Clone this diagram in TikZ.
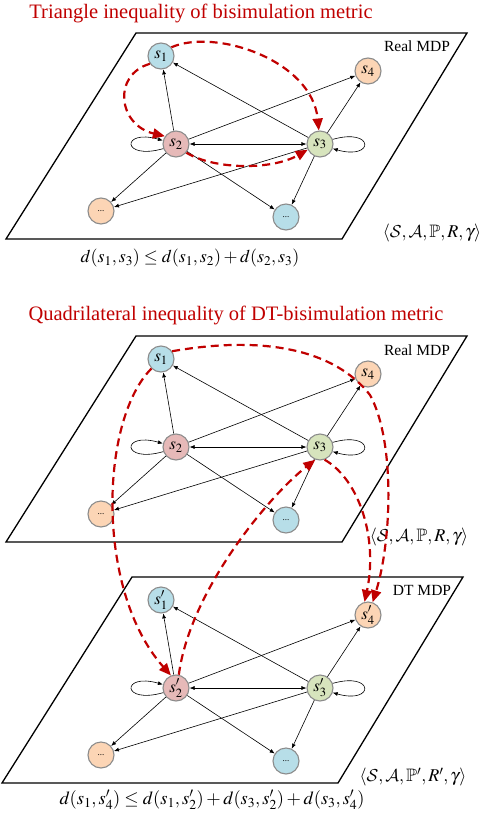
\documentclass[tikz,border=0pt]{standalone}
\usepackage{amsmath, amssymb}
\usepackage{mathptmx}
\DeclareMathAlphabet{\mathcal}{OMS}{cmsy}{m}{n}
\usepackage{fontspec}
\setmainfont{Liberation Serif}
\usepackage{tikz}
\usetikzlibrary{arrows.meta}
\usetikzlibrary{calc}

\definecolor{sblue}{HTML}{B7DEE8}
\definecolor{sred}{HTML}{E6B9B8}
\definecolor{sgreen}{HTML}{D7E4BD}
\definecolor{sorange}{HTML}{FCD5B5}
\definecolor{metricred}{HTML}{C00000}

% one MDP plane: #1 prefix, #2 top edge, #3 x shift, #4 prime
\newcommand{\mdpplane}[4]{%
	\draw[plane] (136+#3,#2) -- (467+#3,#2) -- (342+#3,#2+206) -- (6+#3,#2+206) -- cycle;
	\node[state,fill=sblue]   (#1s1) at (161,#2+23)  {$s#4_1$};
	\node[state,fill=sorange] (#1s4) at (368,#2+38)  {$s#4_4$};
	\node[state,fill=sred]    (#1s2) at (176,#2+111) {$s#4_2$};
	\node[state,fill=sgreen]  (#1s3) at (320,#2+111) {$s#4_3$};
	\node[dotstate,fill=sorange] (#1d1) at (101,#2+178) {...};
	\node[dotstate,fill=sblue]   (#1d2) at (286,#2+184) {...};
	\draw[link] (#1s2) -- (#1s1);
	\draw[link] (#1s3) -- (#1s1);
	\draw[link,<->] (#1s2) -- (#1s3);
	\draw[link] (#1s2) -- (#1s4);
	\draw[link] (#1s3) -- (#1s4);
	\draw[link] (#1s2) -- (#1d1);
	\draw[link] (#1s3) -- (#1d1);
	\draw[link] (#1s2) -- (#1d2);
	\draw[link] (#1s3) -- (#1d2);
	\draw[link] (#1s2.200) .. controls +(-42,12) and +(-42,-12) .. (#1s2.165);
	\draw[link] (#1s3.20) .. controls +(42,-12) and +(42,12) .. (#1s3.340);
}

\begin{document}
\begin{tikzpicture}
	[
	x = 1pt, y = -1pt,
	> = {Latex[length=5pt,width=4pt]},
	plane/.style = {line width=1.3pt},
	state/.style = {draw=black!45,line width=1.1pt,circle,minimum size=26pt,inner sep=0pt,font=\fontsize{17}{17}\selectfont},
	dotstate/.style = {state,font=\fontsize{9}{9}\selectfont},
	link/.style = {->,line width=0.6pt},
	metric/.style = {-{Triangle[length=12pt,width=10pt]},metricred,line width=2.2pt,dash pattern=on 8pt off 5pt},
	title/.style = {metricred,font=\fontsize{20.5}{22}\selectfont},
	mdpname/.style = {font=\fontsize{15.5}{16}\selectfont},
	formula/.style = {font=\fontsize{18}{18}\selectfont}
	]
	\useasboundingbox (0,0) rectangle (486,814);

	\node[title] (ttop) at (201,13) {Triangle inequality of bisimulation metric};
	\node[title] (tmid) at (236,315) {Quadrilateral inequality of DT-bisimulation metric};

	\mdpplane{a}{33}{0}{}
	\mdpplane{b}{336}{0}{}
	\mdpplane{c}{577}{-4}{'}

	\node[mdpname] (na) at (417,46) {Real MDP};
	\node[mdpname] (nb) at (417,350) {Real MDP};
	\node[mdpname] (nc) at (422,590) {DT MDP};

	\node[formula] (ua) at (432,233) {$\langle\mathcal{S},\mathcal{A},\mathbb{P},R,\gamma\rangle$};
	\node[formula] (ub) at (419,537) {$\langle\mathcal{S},\mathcal{A},\mathbb{P},R,\gamma\rangle$};
	\node[formula] (uc) at (413,777) {$\langle\mathcal{S},\mathcal{A},\mathbb{P}',R',\gamma\rangle$};

	\node[formula] (fa) at (190,258) {$d(s_1,s_3)\le d(s_1,s_2)+d(s_2,s_3)$};
	\node[formula,font=\fontsize{18.5}{18}\selectfont] (fc) at (212,800) {$d(s_1,s'_4)\le d(s_1,s'_2)+d(s_3,s'_2)+d(s_3,s'_4)$};

	% triangle
	\draw[metric] (as1.215) .. controls (112,75) and (118,125) .. (as2.145);
	\draw[metric] (as1.40) .. controls (215,28) and (312,60) .. (as3.95);
	\draw[metric] (as2.-40) .. controls (215,170) and (272,170) .. (as3.205);

	% quadrilateral
	\draw[metric] (bs1.225) .. controls (100,420) and (95,590) .. (cs2.112);
	\draw[metric] (cs2.78) .. controls (190,590) and (270,495) .. (bs3.250);
	\draw[metric] (bs3.290) .. controls (360,480) and (378,540) .. (cs4.105);
	\draw[metric] (bs1.35) .. controls (265,335) and (335,350) .. (370,395) .. controls (395,440) and (392,540) .. (cs4.70);
\end{tikzpicture}
\end{document}
